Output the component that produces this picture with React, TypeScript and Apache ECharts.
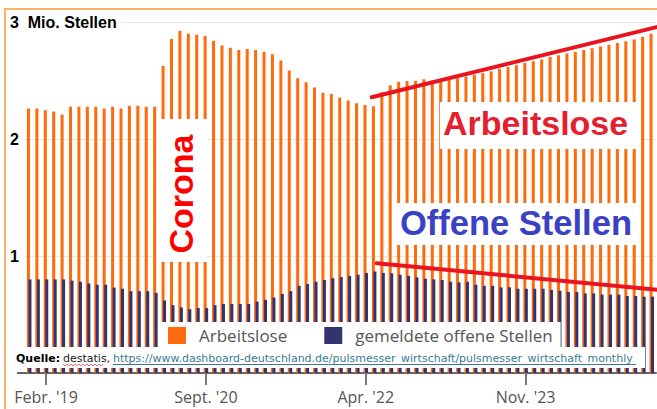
import React, { useEffect, useRef } from "react";
import * as echarts from "echarts";

// Monthly data, Dec 2018 – Feb 2025 (millions)
const START_YEAR = 2018;
const START_MONTH = 11; // December (0-based)
const MONTH_ABBR = ["Jan.", "Febr.", "März", "Apr.", "Mai", "Juni", "Juli", "Aug.", "Sept.", "Okt.", "Nov.", "Dez."];

const arbeitslose = [
  2.26, 2.26, 2.245, 2.235, 2.21, 2.275, 2.275, 2.275, 2.275, 2.26, 2.275, 2.26,
  2.285, 2.285, 2.275, 2.275, 2.625, 2.855, 2.925, 2.9, 2.89, 2.88, 2.84, 2.8,
  2.78, 2.76, 2.77, 2.76, 2.745, 2.725, 2.67, 2.585, 2.52, 2.485, 2.44, 2.395,
  2.385, 2.355, 2.33, 2.305, 2.29, 2.28, 2.4, 2.46, 2.49, 2.495, 2.495, 2.51,
  2.5, 2.505, 2.51, 2.52, 2.535, 2.55, 2.565, 2.58, 2.6, 2.615, 2.63, 2.65,
  2.665, 2.68, 2.7, 2.715, 2.73, 2.745, 2.76, 2.775, 2.79, 2.805, 2.82, 2.835,
  2.85, 2.875, 2.9,
];

const offeneStellen = [
  0.8, 0.8, 0.8, 0.8, 0.8, 0.79, 0.78, 0.765, 0.755, 0.755, 0.73, 0.72,
  0.7, 0.7, 0.7, 0.685, 0.62, 0.58, 0.56, 0.545, 0.555, 0.555, 0.58, 0.59,
  0.59, 0.59, 0.59, 0.61, 0.625, 0.645, 0.675, 0.7, 0.745, 0.76, 0.78, 0.795,
  0.81, 0.82, 0.83, 0.84, 0.855, 0.867, 0.855, 0.852, 0.84, 0.83, 0.818, 0.806,
  0.8, 0.795, 0.78, 0.775, 0.78, 0.755, 0.745, 0.745, 0.732, 0.732, 0.72, 0.72,
  0.72, 0.72, 0.71, 0.703, 0.692, 0.692, 0.68, 0.68, 0.67, 0.67, 0.67, 0.658,
  0.658, 0.652, 0.652,
];

const Y_MIN = 0;
const Y_MAX = 3;
const Y_STEP = 1;
const LABEL_INDEXES = [2, 21, 40, 59]; // Febr. '19, Sept. '20, Apr. '22, Nov. '23

const months = arbeitslose.map((_, i) => {
  const t = START_MONTH + i;
  const m = t % 12;
  const y = START_YEAR + Math.floor(t / 12);
  return `${MONTH_ABBR[m]} '${String(y).slice(2)}`;
});

const showIdx = (i: number) => LABEL_INDEXES.indexOf(i) >= 0;

const ORANGE = "#ff6a0d";
const NAVY = "#33336e";

function wavy(x0: number, x1: number, y: number) {
  const pts: number[][] = [];
  let up = true;
  for (let x = x0; x <= x1; x += 2) {
    pts.push([x, up ? y - 1 : y + 1]);
    up = !up;
  }
  return pts;
}

export default function App() {
  const ref = useRef<HTMLDivElement>(null);
  useEffect(() => {
    if (!ref.current) return;
    const chart = echarts.init(ref.current, null, { renderer: "svg" });
    const white = { fill: "#ffffff" };
    const xAxisBase = {
      type: "category",
      data: months,
      boundaryGap: true,
    };
    chart.setOption({
      animation: false,
      backgroundColor: "#ffffff",
      grid: { left: 25, right: 1, top: 22, bottom: 36 },
      xAxis: [
        {
          ...xAxisBase,
          axisLine: { lineStyle: { color: "#666", width: 2 } },
          axisTick: { show: false },
          axisLabel: {
            interval: (i: number) => showIdx(i),
            color: "#555",
            fontSize: 16,
            fontFamily: "Open Sans",
            margin: 16,
          },
          splitLine: { show: false },
        },
        {
          ...xAxisBase,
          position: "bottom",
          axisLine: { show: false },
          axisLabel: { show: false },
          axisTick: {
            show: true,
            alignWithLabel: true,
            customValues: LABEL_INDEXES,
            length: 12,
            lineStyle: { color: "#777", width: 2 },
          },
          splitLine: { show: false },
        },
      ],
      yAxis: {
        type: "value",
        min: Y_MIN,
        max: Y_MAX,
        interval: Y_STEP,
        axisLine: { show: false },
        axisTick: { show: false },
        splitLine: { lineStyle: { color: "#e6e6e6", width: 1 } },
        axisLabel: {
          formatter: (v: number) => (v === 0 ? "" : v === 3 ? "3  Mio. Stellen" : String(v)),
          align: "left",
          margin: 15,
          color: "#000",
          fontWeight: "bold",
          fontSize: 16,
          fontFamily: "Liberation Sans",
          backgroundColor: "#fff",
          padding: [1, 5, 1, 0],
        },
      },
      legend: {
        left: 160,
        top: 322,
        padding: [5, 8, 3, 8],
        backgroundColor: "#fff",
        itemWidth: 18,
        itemHeight: 17,
        itemGap: 37,
        icon: "rect",
        selectedMode: false,
        z: 150,
        textStyle: { fontSize: 17, color: "#555", fontFamily: "Open Sans", padding: [0, 0, 0, 8] },
        data: ["Arbeitslose", "gemeldete offene Stellen"],
      },
      series: [
        {
          type: "bar",
          name: "Arbeitslose",
          data: arbeitslose,
          barWidth: 3,
          barGap: "-50%",
          itemStyle: { color: ORANGE },
        },
        {
          type: "bar",
          name: "gemeldete offene Stellen",
          data: offeneStellen,
          barWidth: 3,
          itemStyle: { color: NAVY },
        },
      ],
      graphic: [
        // frame
        { type: "rect", z: 300, shape: { x: 4, y: 8, width: 660, height: 2 }, style: { fill: "#f9b468" } },
        { type: "rect", z: 300, shape: { x: 4, y: 8, width: 2, height: 410 }, style: { fill: "#f9b468" } },
        // axis line stub left of the plot
        { type: "line", z: 50, shape: { x1: 17, y1: 373, x2: 26, y2: 373 }, style: { stroke: "#666", lineWidth: 2 } },
        // Corona
        { type: "rect", z: 100, shape: { x: 157, y: 119, width: 50, height: 143 }, style: white },
        {
          type: "text", z: 101, x: 181, y: 194, rotation: Math.PI / 2,
          style: { text: "Corona", fill: "#ff0000", fontSize: 34, fontWeight: "bold", fontFamily: "Liberation Sans", align: "center", verticalAlign: "middle" },
        },
        // Arbeitslose
        { type: "rect", z: 100, shape: { x: 440, y: 102, width: 200, height: 47 }, style: white },
        {
          type: "text", z: 101, x: 443, y: 123,
          style: { text: "Arbeitslose", fill: "#e5202e", fontSize: 34, fontWeight: "bold", fontFamily: "Liberation Sans", align: "left", verticalAlign: "middle" },
        },
        // Offene Stellen
        { type: "rect", z: 100, shape: { x: 396, y: 203, width: 244, height: 42 }, style: white },
        {
          type: "text", z: 101, x: 400, y: 223,
          style: { text: "Offene Stellen", fill: "#3b41c5", fontSize: 34.5, fontWeight: "bold", fontFamily: "Liberation Sans", align: "left", verticalAlign: "middle" },
        },
        // trend lines
        { type: "line", z: 102, shape: { x1: 371.7, y1: 97.3, x2: 660, y2: 26.3 }, style: { stroke: "#e8141e", lineWidth: 4, lineCap: "round" } },
        { type: "line", z: 102, shape: { x1: 376.7, y1: 263.3, x2: 660, y2: 290 }, style: { stroke: "#e8141e", lineWidth: 4, lineCap: "round" } },
        // Quelle
        { type: "rect", z: 100, shape: { x: 10, y: 347, width: 635, height: 21 }, style: white },
        {
          type: "text", z: 101, x: 16, y: 358,
          style: { text: "Quelle:", fill: "#000", fontSize: 11, fontWeight: "bold", fontFamily: "DejaVu Sans", align: "left", verticalAlign: "middle" },
        },
        {
          type: "text", z: 101, x: 63, y: 358,
          style: { text: "destatis,", fill: "#222", fontSize: 11, fontFamily: "DejaVu Sans", align: "left", verticalAlign: "middle" },
        },
        { type: "polyline", z: 101, shape: { points: wavy(63, 103, 365) }, style: { stroke: "#e85050", lineWidth: 0.8, fill: null } },
        {
          type: "text", z: 101, x: 113, y: 358,
          style: { text: "https://www.dashboard-deutschland.de/pulsmesser_wirtschaft/pulsmesser_wirtschaft_monthly", fill: "#3a7a94", fontSize: 11, fontFamily: "DejaVu Sans", align: "left", verticalAlign: "middle" },
        },
        { type: "line", z: 101, shape: { x1: 113, y1: 364.5, x2: 636, y2: 364.5 }, style: { stroke: "#3a7a94", lineWidth: 1 } },
      ],
    });
    return () => chart.dispose();
  }, []);
  return (
    <div
      ref={ref}
      style={{ position: "fixed", left: 0, top: 0, width: 657, height: 409, background: "#fff" }}
    />
  );
}
